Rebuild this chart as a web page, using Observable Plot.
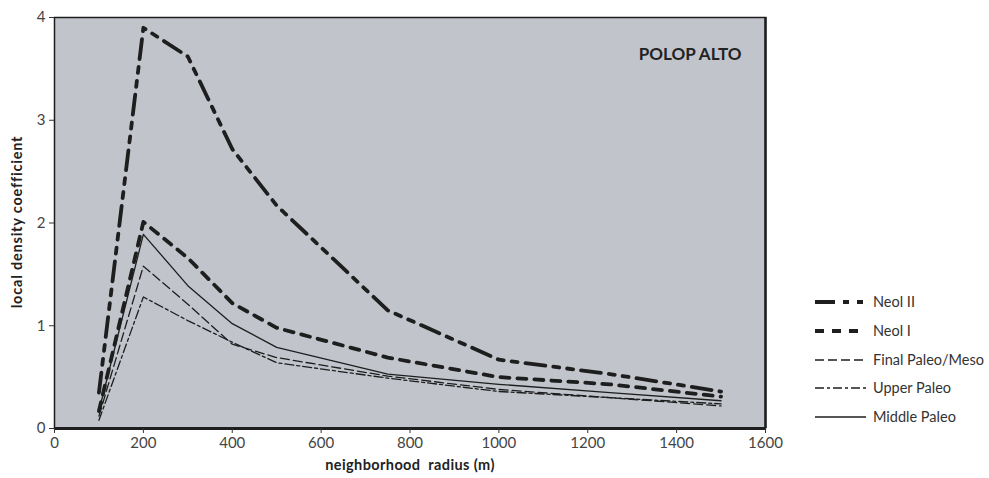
<!DOCTYPE html>
<html>
<head>
<meta charset="utf-8">
<script src="https://cdn.jsdelivr.net/npm/d3@7"></script>
<script src="https://cdn.jsdelivr.net/npm/@observablehq/plot@0.6"></script>
<style>
  html, body { margin: 0; padding: 0; background: #fff; }
  #chart { width: 989px; height: 478px; }
  svg { font-family: Lato, "DejaVu Sans", sans-serif; }
</style>
</head>
<body>
<div id="chart"></div>
<script>
const title = "POLOP ALTO";
const xLabel = "neighborhood  radius (m)";
const yLabel = "local density coefficient";
const radius = [100, 200, 300, 400, 500, 750, 1000, 1250, 1500];
const seriesNames = ["Neol II", "Neol I", "Final Paleo/Meso", "Upper Paleo", "Middle Paleo"];
const neolII = [0.35, 3.90, 3.62, 2.72, 2.17, 1.15, 0.67, 0.53, 0.36];
const neolI = [0.17, 2.01, 1.66, 1.22, 0.98, 0.69, 0.50, 0.43, 0.31];
const finalPaleoMeso = [0.12, 1.58, 1.21, 0.82, 0.69, 0.51, 0.38, 0.30, 0.22];
const upperPaleo = [0.08, 1.28, 1.05, 0.84, 0.64, 0.49, 0.36, 0.30, 0.24];
const middlePaleo = [0.17, 1.89, 1.39, 1.02, 0.79, 0.53, 0.43, 0.35, 0.27];
const xTicks = [0, 200, 400, 600, 800, 1000, 1200, 1400, 1600];
const yTicks = [0, 1, 2, 3, 4];

const seriesValues = [neolII, neolI, finalPaleoMeso, upperPaleo, middlePaleo];
const styles = {
  "Neol II": {strokeWidth: 3.8, dash: "20,8,6,8,6,8"},
  "Neol I": {strokeWidth: 3.8, dash: "9,8"},
  "Final Paleo/Meso": {strokeWidth: 1.3, dash: "9,4"},
  "Upper Paleo": {strokeWidth: 1.3, dash: "9,3,3,3"},
  "Middle Paleo": {strokeWidth: 1.3, dash: null}
};

const rows = [];
seriesNames.forEach((name, i) => {
  radius.forEach((r, j) => rows.push({series: name, radius: r, value: seriesValues[i][j]}));
});

const lineMarks = seriesNames.slice().reverse().map(name =>
  Plot.line(rows.filter(d => d.series === name), {
    x: "radius", y: "value", stroke: "#1e1e1e",
    strokeWidth: styles[name].strokeWidth,
    strokeDasharray: styles[name].dash,
    strokeLinejoin: "round"
  })
);

const plot = Plot.plot({
  width: 989,
  height: 478,
  marginLeft: 54,
  marginTop: 17,
  marginRight: 224,
  marginBottom: 50,
  style: {fontSize: "15px", color: "#333", fontFamily: "Lato, 'DejaVu Sans', sans-serif"},
  x: {domain: [0, 1600], label: null},
  y: {domain: [0, 4], label: null},
  marks: [
    Plot.frame({fill: "#c1c4cb", stroke: "#1e1e1e", strokeWidth: 1.5}),
    ...lineMarks,
    Plot.ruleY([0], {stroke: "#1e1e1e", strokeWidth: 3}),
    Plot.ruleX([1600], {stroke: "#1e1e1e", strokeWidth: 2.5}),
    Plot.text([title], {frameAnchor: "top-right", dx: -24, dy: 30, fontWeight: "bold", fontSize: 17, fill: "#222", letterSpacing: "0.3px"}),
    Plot.axisX({ticks: xTicks, tickFormat: d => String(d), tickSize: 5, tickPadding: 4, fontSize: 15, fill: "#444", label: null}),
    Plot.axisY({ticks: yTicks, tickFormat: d => String(d), tickSize: 5, tickPadding: 4, fontSize: 15, fill: "#444", label: null})
  ]
});

const svg = d3.select(plot);
// axis titles
svg.append("text")
  .attr("x", 410).attr("y", 470)
  .attr("text-anchor", "middle")
  .attr("font-weight", "bold").attr("font-size", 14.5).attr("fill", "#222")
  .attr("letter-spacing", "0.4px")
  .style("white-space", "pre")
  .text(xLabel);
svg.append("text")
  .attr("transform", "translate(22,222) rotate(-90)")
  .attr("text-anchor", "middle")
  .attr("font-weight", "bold").attr("font-size", 14.5).attr("fill", "#222")
  .attr("letter-spacing", "0.8px")
  .text(yLabel);

// legend
const legendY = [302, 331, 360, 388, 417];
const lg = svg.append("g").attr("text-anchor", "start");
seriesNames.forEach((name, i) => {
  lg.append("line")
    .attr("x1", 815).attr("x2", 866)
    .attr("y1", legendY[i]).attr("y2", legendY[i])
    .attr("stroke", "#1e1e1e")
    .attr("stroke-width", styles[name].strokeWidth)
    .attr("stroke-dasharray", styles[name].dash);
  lg.append("text")
    .attr("x", 873).attr("y", legendY[i]).attr("dy", "0.35em")
    .attr("text-anchor", "start")
    .attr("font-size", 14.5).attr("fill", "#333")
    .text(name);
});

document.getElementById("chart").appendChild(plot);
</script>
</body>
</html>
